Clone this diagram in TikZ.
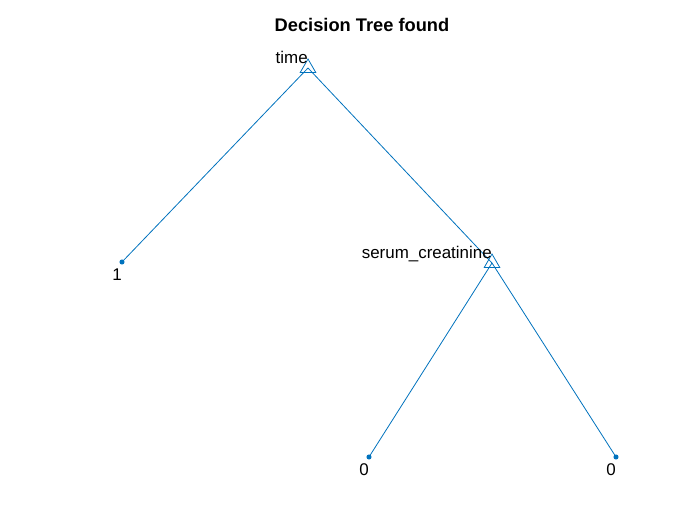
\documentclass[tikz,border=0pt]{standalone}
\usepackage{fontspec}
\setmainfont{Liberation Sans}
\usetikzlibrary{shapes.geometric, backgrounds}
\definecolor{matblue}{RGB}{0,114,189}
\tikzstyle{split}=[regular polygon, regular polygon sides=3, draw=matblue, line width=0.6pt, minimum size=13.5pt, inner sep=0pt, yshift=-1.5pt]
\tikzstyle{leaf}=[circle, fill=matblue, minimum size=3.8pt, inner sep=0pt]
\tikzstyle{branch}=[draw=matblue, line width=0.6pt]
\tikzstyle{lbl}=[font=\fontsize{12.7}{15}\selectfont, inner sep=0pt]

\begin{document}
\begin{tikzpicture}[x=0.75pt, y=-0.75pt]
  \useasboundingbox (0,0) rectangle (700,525);
  \node[font=\fontsize{13.7}{16}\selectfont\bfseries] (title) at (362,25) {Decision Tree found};

  % splits
  \node[split] (s0) at (308,66) {};
  \node[lbl, anchor=base east] (s0l) at ([yshift=3.75pt]s0.center) {time};
  \node[split] (s1) at (492,261) {};
  \node[lbl, anchor=base east] (s1l) at ([yshift=3.75pt]s1.center) {serum\_creatinine};

  % leaves
  \node[leaf] (l0) at (122,262) [label={[lbl, xshift=-3.75pt, label distance=3pt]below:1}] {};
  \node[leaf] (l1) at (369,457) [label={[lbl, xshift=-3.75pt, label distance=3pt]below:0}] {};
  \node[leaf] (l2) at (616,457) [label={[lbl, xshift=-3.75pt, label distance=3pt]below:0}] {};

  \begin{scope}[on background layer]
    \draw[branch] (s0.center) -- (l0.center);
    \draw[branch] (s0.center) -- (s1.center);
    \draw[branch] (s1.center) -- (l1.center);
    \draw[branch] (s1.center) -- (l2.center);
  \end{scope}
\end{tikzpicture}
\end{document}
